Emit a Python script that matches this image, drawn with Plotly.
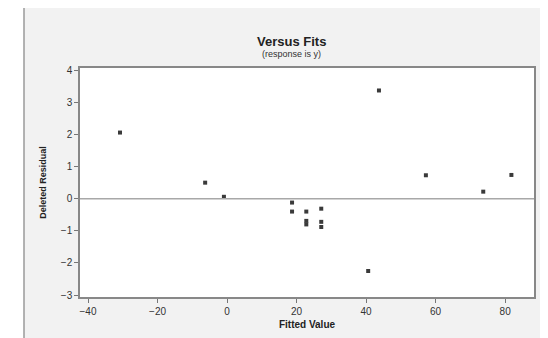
import plotly.graph_objects as go

fitted = [-30.8, -6.3, -0.9, 18.7, 18.7, 22.8, 22.8, 22.8, 27.1, 27.1, 27.1, 40.6, 43.7, 57.2, 73.7, 81.8]
resid = [2.06, 0.50, 0.06, -0.12, -0.40, -0.40, -0.69, -0.80, -0.31, -0.72, -0.88, -2.25, 3.37, 0.73, 0.22, 0.74]
xticks = [-40, -20, 0, 20, 40, 60, 80]
yticks = [-3, -2, -1, 0, 1, 2, 3, 4]

W, H = 548, 338
L, R, T, B = 72, 22, 60, 49
pw, ph = W - L - R, H - T - B

fig = go.Figure()
fig.add_trace(go.Scatter(
    x=fitted, y=resid, mode="markers",
    marker=dict(symbol="square", size=4, color="#3a3a3a"),
    showlegend=False, hoverinfo="x+y"))

fig.add_hline(y=0, line=dict(color="#a8a8a8", width=1.5))

font = "Liberation Sans, Arial, sans-serif"
fig.update_layout(
    width=W, height=H,
    margin=dict(l=L, r=R, t=T, b=B),
    paper_bgcolor="#f2f2f2", plot_bgcolor="white",
    font=dict(family=font, size=10, color="#333333"),
    xaxis=dict(range=[-42.3, 88.3], tickvals=xticks, ticks="outside", ticklen=4,
               tickcolor="#777777", showgrid=False, zeroline=False,
               showline=True, linecolor="#888888", linewidth=1.5, mirror=True,
               tickfont=dict(size=10, color="#333333", family=font),
               title=dict(text="<b>Fitted Value</b>", font=dict(size=10, color="#222222", family=font), standoff=5)),
    yaxis=dict(range=[-3.06, 4.07], tickvals=yticks, ticks="outside", ticklen=4,
               tickcolor="#777777", showgrid=False, zeroline=False,
               showline=True, linecolor="#888888", linewidth=1.5, mirror=True,
               tickfont=dict(size=10, color="#333333", family=font),
               title=dict(text="<b>Deleted Residual</b>", font=dict(size=9, color="#222222", family=font), standoff=13)),
)

# scanned frame edges
fig.add_shape(type="rect", xref="paper", yref="paper",
              x0=-L / pw, x1=(16 - L) / pw, y0=-B / ph, y1=1 + T / ph,
              fillcolor="white", line=dict(width=0), layer="below")
fig.add_shape(type="line", xref="paper", yref="paper",
              x0=(16 - L) / pw, x1=(16 - L) / pw, y0=-(336 - (H - B)) / ph, y1=1 + T / ph,
              line=dict(color="#9a9a9a", width=1.5))
fig.add_shape(type="line", xref="paper", yref="paper",
              x0=(16 - L) / pw, x1=1 + R / pw, y0=-(336 - (H - B)) / ph, y1=-(336 - (H - B)) / ph,
              line=dict(color="#aaaaaa", width=2))

fig.add_annotation(text="<b>Versus Fits</b>", xref="paper", yref="paper",
                   x=(283 - L) / pw, y=1 + (T - 33) / ph, showarrow=False,
                   xanchor="center", yanchor="middle",
                   font=dict(size=13, color="#222222", family=font))
fig.add_annotation(text="(response is y)", xref="paper", yref="paper",
                   x=(283 - L) / pw, y=1 + (T - 46) / ph, showarrow=False,
                   xanchor="center", yanchor="middle",
                   font=dict(size=9, color="#333333", family=font))

fig.write_html("out.html")
